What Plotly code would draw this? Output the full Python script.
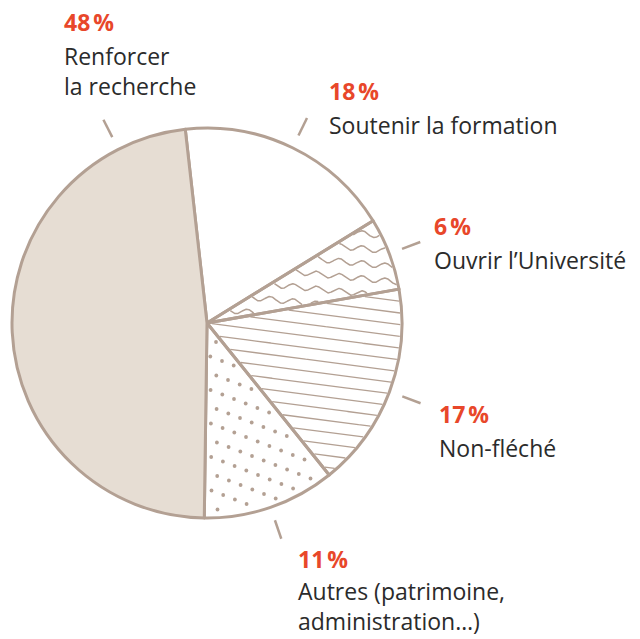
import math
import numpy as np
import plotly.graph_objects as go

# ---- data ----
pct_values = [18, 6, 17, 11, 48]
pct_texts = ["18\u202f%", "6\u202f%", "17\u202f%", "11\u202f%", "48\u202f%"]
label_lines = [
    ["Soutenir la formation"],
    ["Ouvrir l’Université"],
    ["Non-fléché"],
    ["Autres (patrimoine,", "administration…)"],
    ["Renforcer", "la recherche"],
]

# ---- style / layout ----
W, H = 640, 639
STROKE = "#b3a093"
FILL_BEIGE = "#e6ddd3"
RED = "#e8472a"
TXT = "#2b2b2b"
FONT = "Open Sans"
FS = 23
cx, cy, R = 207, 323, 195          # pie centre / radius in pixels
rotation = -6.4
label_pos = [(327, 91), (432, 226), (437, 414), (296, 559), (62, 22)]
bottom_aligned = {3}               # label block that sits on the bottom edge
tick_angle_override = {4: 333.0}
fill_style = ["none", "waves", "hatch", "dots", "beige"]
TRANSPARENT = "rgba(0,0,0,0)"
colors = [("white" if s == "none" else FILL_BEIGE if s == "beige" else TRANSPARENT)
          for s in fill_style]

# slice angle bounds (degrees clockwise from 12 o'clock)
total = sum(pct_values)
bounds = []
cum = 0
for v in pct_values:
    a0 = rotation + 360 * cum / total
    cum += v
    bounds.append((a0, rotation + 360 * cum / total))

def inside(x, y, a0, a1, margin=1.5):
    dx, dy = x - cx, y - cy
    r = np.hypot(dx, dy)
    ang = np.degrees(np.arctan2(dx, -dy))
    ang = (ang - a0) % 360
    span = a1 - a0
    am = np.degrees(margin / np.maximum(r, 1e-6))
    return (r <= R - margin) & (ang >= am) & (ang <= span - am)

fig = go.Figure()

def add_pattern_lines(a0, a1, offsets, yfunc, width):
    xs_all, ys_all = [], []
    xs = np.linspace(cx - R, cx + R, 1600)
    for k in offsets:
        ys = yfunc(xs, k)
        m = inside(xs, ys, a0, a1)
        if not m.any():
            continue
        seg_x, seg_y = [], []
        prev = False
        for x, y, ok in zip(xs, ys, m):
            if ok:
                seg_x.append(x); seg_y.append(y)
            elif prev:
                seg_x.append(None); seg_y.append(None)
            prev = ok
        xs_all += seg_x + [None]
        ys_all += seg_y + [None]
    fig.add_trace(go.Scatter(x=xs_all, y=ys_all, mode="lines",
                             line=dict(color=STROKE, width=width),
                             hoverinfo="skip", showlegend=False))

for i, style in enumerate(fill_style):
    a0, a1 = bounds[i]
    if style == "hatch":
        add_pattern_lines(a0, a1, range(-40, 41),
                          lambda x, k: cy + k * 11.7 + 0.13 * (x - cx), 1.3)
    elif style == "waves":
        add_pattern_lines(a0, a1, range(-30, 31),
                          lambda x, k: cy + k * 15 + 0.1 * (x - cx)
                          + 2.8 * np.sin(2 * np.pi * (x - cx) / 23), 1.5)
    elif style == "dots":
        av, bv = np.array([11.7, 4.5]), np.array([6.0, 19.0])
        ii, jj = np.meshgrid(np.arange(-40, 41), np.arange(-40, 41))
        px = cx + 3 + ii * av[0] + jj * bv[0]
        py = cy + ii * av[1] + jj * bv[1]
        m = inside(px, py, a0, a1, margin=3.5)
        fig.add_trace(go.Scatter(x=px[m], y=py[m], mode="markers",
                                 marker=dict(color=STROKE, size=3.8),
                                 hoverinfo="skip", showlegend=False))

fig.add_trace(go.Pie(
    values=pct_values,
    sort=False,
    direction="clockwise",
    rotation=rotation,
    textinfo="none",
    hoverinfo="skip",
    showlegend=False,
    domain=dict(x=[(cx - R) / W, (cx + R) / W],
                y=[(H - cy - R) / H, (H - cy + R) / H]),
    marker=dict(colors=colors, line=dict(color=STROKE, width=3)),
))

shapes = []
annotations = []
for i, v in enumerate(pct_values):
    a0, a1 = bounds[i]
    ang = tick_angle_override.get(i, (a0 + a1) / 2)
    a = math.radians(ang)
    r0, r1 = R * 1.07, R * 1.17
    shapes.append(dict(type="line", xref="x", yref="y",
                       x0=cx + r0 * math.sin(a), y0=cy - r0 * math.cos(a),
                       x1=cx + r1 * math.sin(a), y1=cy - r1 * math.cos(a),
                       line=dict(color=STROKE, width=2.5)))
    lx, ly = label_pos[i]
    annotations.append(dict(xref="x", yref="y", x=lx, y=ly,
                            xanchor="left", yanchor="middle", showarrow=False,
                            text="<b>" + pct_texts[i] + "</b>",
                            font=dict(family=FONT, size=FS, color=RED)))
    if i in bottom_aligned:
        ty, tanchor = H, "bottom"
    else:
        ty, tanchor = ly + 16, "top"
    annotations.append(dict(xref="x", yref="y", x=lx, y=ty,
                            xanchor="left", yanchor=tanchor, align="left",
                            showarrow=False,
                            text="<br>".join(label_lines[i]),
                            font=dict(family=FONT, size=FS, color=TXT)))

fig.update_layout(
    width=W, height=H,
    margin=dict(l=0, r=0, t=0, b=0),
    paper_bgcolor="white", plot_bgcolor="white",
    xaxis=dict(range=[0, W], visible=False, fixedrange=True),
    yaxis=dict(range=[H, 0], visible=False, fixedrange=True),
    shapes=shapes, annotations=annotations,
)
fig.write_html("out.html", config={"displayModeBar": False},
               post_script="document.body.style.margin='0';")
